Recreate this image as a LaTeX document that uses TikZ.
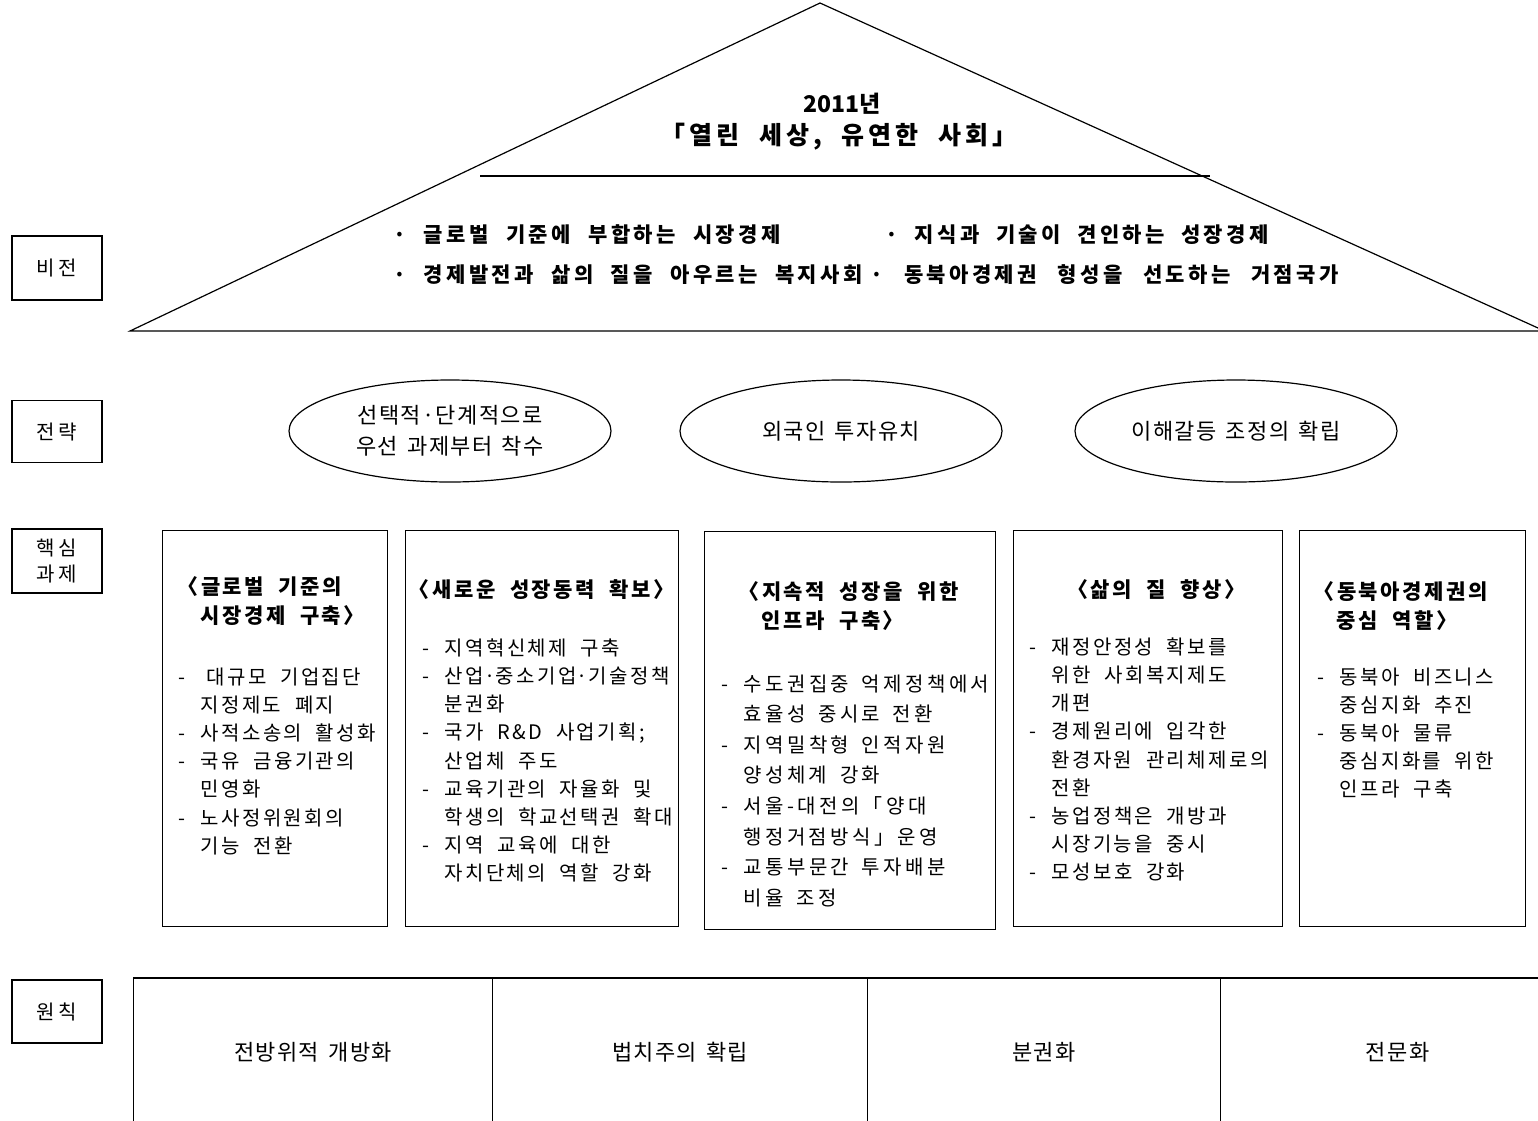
\documentclass[tikz,border=0pt]{standalone}
\usepackage{fontspec}
\setmainfont{Noto Sans CJK KR}
\newfontfamily\kr[LetterSpace=12,WordSpace=2.3]{Noto Sans CJK KR}
\newfontfamily\krw[LetterSpace=17,WordSpace=1.6]{Noto Sans CJK KR}
\newfontfamily\krh[LetterSpace=12,WordSpace=2]{Noto Sans CJK KR}
\newfontfamily\krv[LetterSpace=16,WordSpace=2]{Noto Sans CJK KR}
\newfontfamily\kre[LetterSpace=6,WordSpace=1.5]{Noto Sans CJK KR}
\newfontfamily\krl[LetterSpace=18]{Noto Sans CJK KR}
\usetikzlibrary{shapes.geometric}
\newcommand\itm[1]{\makebox[22pt][l]{-}#1}
\newcommand\itmx[1]{\makebox[28pt][l]{-}#1}
\newcommand\cnt[1]{\hspace*{22pt}#1}
\newcommand\mdot{\makebox[12pt]{·}}
\begin{document}
\begin{tikzpicture}[x=1pt,y=-1pt,line width=1.2pt,
  lab/.style={draw,minimum width=90pt,minimum height=64pt,inner sep=0pt,align=center,font=\krl\fontsize{20}{26}\selectfont},
  tbox/.style={draw,inner sep=0pt,anchor=north west},
  ell/.style={draw,ellipse,minimum width=322pt,minimum height=102pt,inner sep=0pt,align=center,font=\kre\fontsize{22}{31}\selectfont},
  head/.style={inner sep=0pt,align=left,font=\krh\bfseries\fontsize{21}{29}\selectfont},
  lst/.style={anchor=north west,inner sep=0pt,align=left,font=\kr\fontsize{20}{28.2}\selectfont},
  vis/.style={anchor=west,inner sep=0pt,font=\krv\bfseries\fontsize{21}{24}\selectfont},
  cell/.style={draw,minimum height=148pt,inner sep=0pt,anchor=north west,font=\kre\fontsize{22}{24}\selectfont}]
\useasboundingbox (0,0) rectangle (1538,1120);

% roof
\coordinate (apex) at (820,3);
\coordinate (bl) at (130,331);
\coordinate (br) at (1538,331);
\coordinate (rs) at (1538,328);
\draw (br) -- (bl) -- (apex) -- (rs);
\coordinate (hl) at (480,176);
\coordinate (hr) at (1210,176);
\draw (hl) -- (hr);
\node[inner sep=0pt,font=\bfseries\fontsize{23}{26}\selectfont] (yr) at (842,104) {2011년};
\node[inner sep=0pt,font=\krv\bfseries\fontsize{25}{28}\selectfont] (ttl) at (839,137) {「열린 세상, 유연한 사회」};
\node[vis] (v1) at (393,235) {\makebox[387pt][s]{· 글로벌 기준에 부합하는 시장경제}};
\node[vis] (v2) at (885,235) {\makebox[383pt][s]{· 지식과 기술이 견인하는 성장경제}};
\node[vis] (v3) at (393,275) {\makebox[469pt][s]{· 경제발전과 삶의 질을 아우르는 복지사회}};
\node[vis] (v4) at (870,275) {\makebox[468pt][s]{· 동북아경제권 형성을 선도하는 거점국가}};

% left labels
\node[lab] (l1) at (57,268) {비전};
\node[lab,minimum height=62pt] (l2) at (57,431.5) {전략};
\node[lab] (l3) at (57,561) {핵심\\과제};
\node[lab,minimum height=63pt] (l4) at (57,1011.5) {원칙};

% strategies
\node[ell] (e1) at (450,431) {선택적·단계적으로\\우선 과제부터 착수};
\node[ell] (e2) at (841,431) {외국인 투자유치};
\node[ell] (e3) at (1236,431) {이해갈등 조정의 확립};

% core task boxes
\node[tbox,minimum width=225pt,minimum height=396pt] (b1) at (162,530) {};
\node[tbox,minimum width=273pt,minimum height=396pt] (b2) at (405,530) {};
\node[tbox,minimum width=291pt,minimum height=398pt] (b3) at (704,531) {};
\node[tbox,minimum width=269pt,minimum height=396pt] (b4) at (1013,530) {};
\node[tbox,minimum width=226pt,minimum height=396pt] (b5) at (1299,530) {};

\node[head,anchor=north west] (h1) at (177,576) {〈글로벌 기준의\\\hspace*{23pt}시장경제 구축〉};
\node[head,anchor=north] (h2) at (541.5,579) {〈새로운 성장동력 확보〉};
\node[head,anchor=north west] (h3) at (738,581) {〈지속적 성장을 위한\\\hspace*{23pt}인프라 구축〉};
\node[head,anchor=north] (h4) at (1156,579) {〈삶의 질 향상〉};
\node[head,anchor=north west] (h5) at (1313,581) {〈동북아경제권의\\\hspace*{23pt}중심 역할〉};

\node[lst] (t1) at (178,667) {\itmx{대규모 기업집단}\\\cnt{지정제도 폐지}\\\itm{사적소송의 활성화}\\\itm{국유 금융기관의}\\\cnt{민영화}\\\itm{노사정위원회의}\\\cnt{기능 전환}};
\node[lst] (t2) at (422,638) {\itm{지역혁신체제 구축}\\\itm{산업\mdot 중소기업\mdot 기술정책}\\\cnt{분권화}\\\itm{국가 R\&D 사업기획;}\\\cnt{산업체 주도}\\\itm{교육기관의 자율화 및}\\\cnt{학생의 학교선택권 확대}\\\itm{지역 교육에 대한}\\\cnt{자치단체의 역할 강화}};
\node[lst,font=\krw\fontsize{20}{30.6}\selectfont] (t3) at (721,674) {\itm{수도권집중 억제정책에서}\\\cnt{효율성 중시로 전환}\\\itm{지역밀착형 인적자원}\\\cnt{양성체계 강화}\\\itm{서울-대전의「양대}\\\cnt{행정거점방식」운영}\\\itm{교통부문간 투자배분}\\\cnt{비율 조정}};
\node[lst] (t4) at (1029,637) {\itm{재정안정성 확보를}\\\cnt{위한 사회복지제도}\\\cnt{개편}\\\itm{경제원리에 입각한}\\\cnt{환경자원 관리체제로의}\\\cnt{전환}\\\itm{농업정책은 개방과}\\\cnt{시장기능을 중시}\\\itm{모성보호 강화}};
\node[lst] (t5) at (1317,667) {\itm{동북아 비즈니스}\\\cnt{중심지화 추진}\\\itm{동북아 물류}\\\cnt{중심지화를 위한}\\\cnt{인프라 구축}};

% principles
\node[cell,minimum width=359pt] (c1) at (133,978) {전방위적 개방화};
\node[cell,minimum width=375pt] (c2) at (492,978) {법치주의 확립};
\node[cell,minimum width=353pt] (c3) at (867,978) {분권화};
\node[cell,minimum width=354pt] (c4) at (1220,978) {전문화};
\draw[line width=1.8pt] (c1.north west) -- (c4.north east);
\end{tikzpicture}
\end{document}
